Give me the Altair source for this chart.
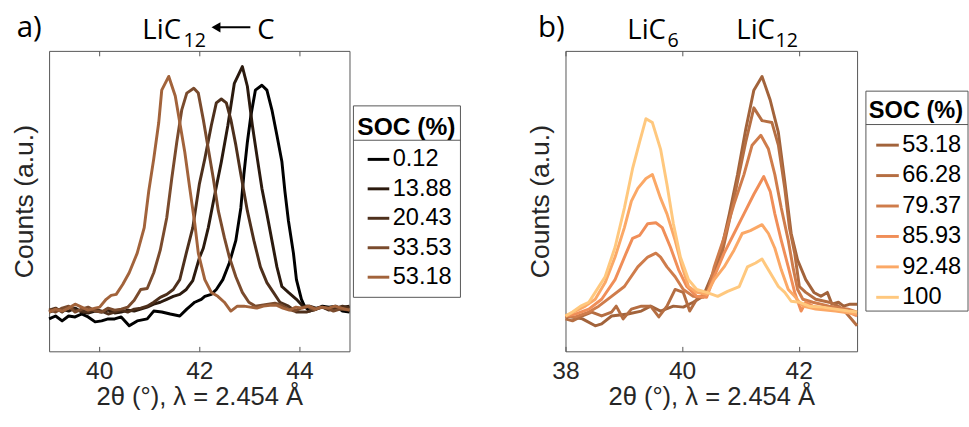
import altair as alt
import pandas as pd

# ---------------- Panel a data ----------------
a_names = ["0.12", "13.88", "20.43", "33.53", "53.18"]
a_colors = ["#000000", "#2b1a0e", "#4e301c", "#7a4b2d", "#a2633b"]

a_x_0p12 = [39.00, 39.13, 39.26, 39.39, 39.52, 39.65, 39.78, 39.92, 40.05, 40.18,
            40.31, 40.44, 40.60, 40.76, 40.96, 41.09, 41.25, 41.42, 41.61, 41.75,
            41.91, 42.04, 42.11, 42.24, 42.34, 42.47, 42.60, 42.73, 42.83, 42.89,
            42.96, 43.03, 43.12, 43.25, 43.35, 43.45, 43.55, 43.65, 43.71, 43.78,
            43.88, 43.94, 44.04, 44.10, 44.20, 44.33, 44.46, 44.59, 44.73, 44.86, 45.00]
a_y_0p12 = [33, 36, 31, 36, 35, 38, 35, 30, 31, 33,
            33, 35, 26, 31, 33, 41, 40, 38, 36, 43,
            50, 53, 56, 58, 63, 73, 90, 113, 146, 180,
            213, 240, 266, 271, 266, 246, 220, 193, 163, 133,
            100, 73, 53, 46, 41, 43, 46, 45, 46, 41, 40]

a_x_13p88 = [39.00, 39.13, 39.26, 39.39, 39.52, 39.65, 39.78, 39.92, 40.05, 40.18,
             40.31, 40.44, 40.57, 40.70, 40.83, 40.96, 41.09, 41.22, 41.35, 41.48,
             41.61, 41.74, 41.87, 42.00, 42.08, 42.18, 42.31, 42.44, 42.57, 42.70,
             42.86, 42.96, 43.06, 43.16, 43.25, 43.35, 43.45, 43.55, 43.65, 43.78,
             43.94, 44.07, 44.20, 44.33, 44.46, 44.59, 44.73, 44.86, 45.00]
a_y_13p88 = [40, 42, 43, 41, 44, 40, 39, 41, 40, 42,
             39, 40, 42, 41, 43, 45, 48, 50, 53, 56,
             58, 63, 72, 95, 105, 126, 160, 193, 230, 273,
             290, 270, 230, 196, 166, 140, 113, 86, 66, 60,
             53, 46, 46, 44, 45, 43, 44, 45, 46]

a_x_20p43 = [39.00, 39.13, 39.26, 39.39, 39.52, 39.65, 39.78, 39.92, 40.05, 40.18,
             40.31, 40.44, 40.57, 40.70, 40.83, 40.96, 41.09, 41.22, 41.35, 41.48,
             41.61, 41.74, 41.87, 42.00, 42.11, 42.24, 42.34, 42.44, 42.54, 42.63,
             42.73, 42.83, 42.96, 43.09, 43.22, 43.35, 43.48, 43.61, 43.78, 43.94,
             44.14, 44.33, 44.46, 44.59, 44.73, 44.86, 45.00]
a_y_20p43 = [42, 44, 40, 45, 42, 41, 40, 43, 41, 38,
             40, 42, 40, 43, 44, 46, 50, 55, 58, 63,
             73, 100, 126, 170, 196, 230, 253, 257, 253, 236,
             210, 180, 143, 113, 86, 70, 60, 50, 46, 40,
             40, 43, 45, 42, 44, 46, 44]

a_x_33p53 = [39.00, 39.13, 39.26, 39.39, 39.52, 39.65, 39.78, 39.92, 40.05, 40.18,
             40.31, 40.44, 40.57, 40.70, 40.83, 40.96, 41.09, 41.22, 41.35, 41.45,
             41.55, 41.65, 41.75, 41.89, 41.98, 42.08, 42.18, 42.28, 42.38, 42.50,
             42.60, 42.73, 42.86, 42.99, 43.12, 43.25, 43.38, 43.51, 43.64, 43.77,
             43.90, 44.03, 44.16, 44.29, 44.42, 44.55, 44.68, 44.81, 45.00]
a_y_33p53 = [43, 40, 44, 46, 40, 43, 45, 41, 40, 44,
             42, 43, 45, 52, 63, 64, 80, 103, 136, 176,
             213, 246, 263, 268, 263, 236, 206, 176, 143, 116,
             96, 76, 60, 50, 46, 47, 48, 49, 47, 43,
             41, 44, 46, 42, 45, 44, 41, 43, 42]

a_x_53p18 = [39.00, 39.13, 39.26, 39.39, 39.52, 39.65, 39.78, 39.92, 40.01, 40.14,
             40.24, 40.34, 40.47, 40.60, 40.76, 40.90, 40.99, 41.09, 41.19, 41.25,
             41.39, 41.52, 41.61, 41.71, 41.81, 41.91, 41.98, 42.11, 42.24, 42.37,
             42.50, 42.63, 42.76, 42.89, 43.02, 43.15, 43.28, 43.41, 43.54, 43.67,
             43.80, 43.93, 44.06, 44.19, 44.32, 44.45, 44.58, 44.71, 44.84, 45.00]
a_y_53p18 = [40, 43, 41, 44, 48, 45, 42, 44, 45, 53,
             57, 58, 68, 80, 100, 126, 163, 196, 233, 266,
             280, 260, 233, 203, 166, 130, 100, 73, 60, 56,
             50, 41, 46, 46, 45, 44, 46, 47, 47, 44,
             42, 45, 44, 46, 43, 45, 44, 46, 44, 42]

# ---------------- Panel b data ----------------
b_names = ["53.18", "66.28", "79.37", "85.93", "92.48", "100"]
b_colors = ["#a2633b", "#b56e42", "#cf7c4b", "#f08e58", "#fba866", "#ffc87e"]

b_x_53p18 = [38.00, 38.29, 38.51, 38.62, 38.79, 39.07, 39.30, 39.46, 39.63, 39.85,
             40.02, 40.19, 40.36, 40.53, 40.67, 40.81, 40.95, 41.09, 41.23, 41.37,
             41.51, 41.65, 41.76, 41.87, 41.98, 42.12, 42.26, 42.38, 42.49, 42.57,
             42.68, 42.77, 42.88, 43.00]
b_y_53p18 = [36, 33, 26, 28, 36, 38, 41, 46, 41, 46,
             45, 50, 56, 80, 103, 140, 180, 226, 266, 280,
             256, 223, 173, 120, 93, 73, 60, 56, 60, 48,
             50, 46, 48, 48]

b_x_66p28 = [38.00, 38.12, 38.29, 38.45, 38.62, 38.79, 38.87, 38.99, 39.13, 39.30,
             39.46, 39.60, 39.74, 39.88, 40.02, 40.13, 40.25, 40.42, 40.53, 40.67,
             40.81, 40.95, 41.09, 41.23, 41.37, 41.54, 41.65, 41.76, 41.84, 41.93,
             42.01, 42.12, 42.29, 42.52, 42.68, 42.80, 43.00]
b_y_66p28 = [33, 31, 36, 40, 36, 40, 46, 33, 43, 46,
             46, 35, 46, 63, 60, 41, 53, 60, 76, 96,
             133, 173, 213, 248, 235, 233, 210, 166, 126, 100,
             66, 60, 53, 50, 46, 40, 26]

b_x_79p37 = [38.00, 38.17, 38.40, 38.57, 38.79, 39.01, 39.24, 39.41, 39.55, 39.63,
             39.74, 39.88, 40.02, 40.19, 40.36, 40.45, 40.55, 40.72, 40.89, 41.06,
             41.20, 41.35, 41.48, 41.59, 41.70, 41.82, 41.90, 41.98, 42.07, 42.24,
             42.52, 42.85, 43.00]
b_y_79p37 = [36, 35, 40, 46, 56, 66, 86, 96, 100, 96,
             86, 76, 63, 56, 55, 62, 86, 116, 150, 180,
             210, 220, 206, 180, 146, 113, 86, 63, 53, 50,
             46, 43, 40]

b_x_85p93 = [38.00, 38.17, 38.40, 38.62, 38.85, 39.04, 39.15, 39.27, 39.41, 39.55,
             39.66, 39.80, 39.94, 40.08, 40.25, 40.42, 40.55, 40.72, 40.89, 41.06,
             41.23, 41.40, 41.51, 41.59, 41.70, 41.82, 41.93, 42.04, 42.12, 42.24,
             42.52, 42.85, 43.00]
b_y_85p93 = [36, 38, 43, 53, 73, 100, 115, 118, 130, 131,
             126, 106, 83, 66, 56, 55, 76, 100, 120, 140,
             160, 178, 163, 140, 113, 86, 60, 41, 50, 46,
             43, 40, 36]

b_x_92p48 = [38.00, 38.17, 38.34, 38.51, 38.68, 38.85, 39.01, 39.13, 39.24, 39.38,
             39.49, 39.63, 39.74, 39.88, 40.00, 40.11, 40.25, 40.42, 40.55, 40.72,
             40.89, 41.03, 41.17, 41.37, 41.48, 41.59, 41.70, 41.82, 41.93, 42.07,
             42.29, 42.63, 43.00]
b_y_92p48 = [36, 41, 46, 53, 70, 96, 126, 153, 166, 176,
             180, 156, 140, 113, 86, 66, 60, 58, 73, 86,
             103, 120, 123, 129, 120, 105, 83, 63, 56, 46,
             43, 41, 38]

b_x_100 = [38.00, 38.12, 38.26, 38.40, 38.51, 38.68, 38.85, 39.01, 39.15, 39.27,
           39.38, 39.49, 39.63, 39.74, 39.85, 39.97, 40.11, 40.25, 40.42, 40.61,
           40.78, 40.98, 41.12, 41.26, 41.37, 41.51, 41.65, 41.76, 41.87, 42.01,
           42.18, 42.40, 42.63, 42.85, 43.00]
b_y_100 = [36, 40, 46, 50, 60, 76, 106, 146, 186, 213,
           237, 233, 206, 170, 130, 96, 73, 63, 60, 56,
           61, 66, 86, 90, 94, 80, 66, 60, 51, 50,
           46, 45, 43, 41, 40]

a_ticks = [40, 42, 44]
b_ticks = [38, 40, 42]


def series_frame(names, xs, ys):
    rows = []
    for n, xv, yv in zip(names, xs, ys):
        for a, b in zip(xv, yv):
            rows.append({"x": a, "y": b, "soc": n})
    return pd.DataFrame(rows)


df_a = series_frame(a_names,
                    [a_x_0p12, a_x_13p88, a_x_20p43, a_x_33p53, a_x_53p18],
                    [a_y_0p12, a_y_13p88, a_y_20p43, a_y_33p53, a_y_53p18])
df_b = series_frame(b_names,
                    [b_x_53p18, b_x_66p28, b_x_79p37, b_x_85p93, b_x_92p48, b_x_100],
                    [b_y_53p18, b_y_66p28, b_y_79p37, b_y_85p93, b_y_92p48, b_y_100])

FONT = "Liberation Sans"
ANN = "Open Sans"
FRAME = "#555555"
TXT = "#262626"
ONE = alt.Data(values=[{"k": 0}])


def y_axis():
    return alt.Axis(title="Counts (a.u.)", labels=False, ticks=False, domain=False, grid=False,
                    titleFont=FONT, titleFontSize=27, titleFontWeight="normal",
                    titleColor=TXT, titlePadding=11)


def x_bottom(vals):
    return alt.Axis(values=vals, format="d", title="2θ (°), λ = 2.454 Å", grid=False,
                    domain=False, ticks=True, tickSize=5, tickWidth=1, tickColor=FRAME,
                    offset=-5, labelFont=FONT, labelFontSize=25, labelColor=TXT,
                    labelPadding=8, labelFlush=False, titleFont=FONT, titleFontSize=26,
                    titleFontWeight="normal", titleColor=TXT, titlePadding=0)


def x_top(vals):
    return alt.Axis(values=vals, orient="top", labels=False, title=None, grid=False,
                    domain=False, ticks=True, tickSize=5, tickWidth=1, tickColor=FRAME,
                    offset=-5)


def legend(x, y, tsize, sym, off, rowpad, tpad):
    return alt.Legend(title="SOC (%)", orient="none", legendX=x, legendY=y,
                      direction="vertical", titleFont=FONT, titleFontSize=tsize,
                      titleFontWeight="bold", titleColor="black", titlePadding=tpad,
                      titleAnchor="start", labelFont=FONT, labelFontSize=24,
                      labelColor="black", labelOffset=2, symbolType="stroke",
                      symbolStrokeWidth=3, symbolSize=sym, symbolOffset=off,
                      rowPadding=rowpad, padding=0)


def text(t, x, y, size):
    return alt.Chart(ONE).mark_text(text=t, font=ANN, fontSize=size, align="left",
                                    baseline="alphabetic", color="black").encode(
        x=alt.value(x), y=alt.value(y))


def box(x1, x2, y1, y2, ysep):
    r = alt.Chart(ONE).mark_rect(fillOpacity=0, stroke=FRAME, strokeWidth=1).encode(
        x=alt.value(x1), x2=alt.value(x2), y=alt.value(y1), y2=alt.value(y2))
    s = alt.Chart(ONE).mark_rule(stroke=FRAME, strokeWidth=1).encode(
        x=alt.value(x1), x2=alt.value(x2), y=alt.value(ysep))
    return [r, s]


def panel(df, names, colors, domain, ticks, width, leg, extras):
    xs = alt.Scale(domain=domain, nice=False, zero=False)
    ys = alt.Scale(domain=[0, 306], nice=False, zero=False)
    lines = alt.Chart(df).mark_line(strokeWidth=3, strokeJoin="round").encode(
        x=alt.X("x:Q", scale=xs, axis=x_bottom(ticks)),
        y=alt.Y("y:Q", scale=ys, axis=y_axis()),
        color=alt.Color("soc:N", scale=alt.Scale(domain=names, range=colors),
                        sort=names, legend=leg),
    )
    top = alt.Chart(df).mark_line(opacity=0).encode(
        x=alt.X("x:Q", scale=xs, axis=x_top(ticks)),
        y=alt.Y("y:Q", scale=ys, axis=y_axis()),
        detail="soc:N",
    )
    return alt.layer(lines, top, *extras).resolve_axis(x="independent").properties(
        width=width, height=306)


# arrow for panel a title
arrow_line = alt.Chart(ONE).mark_rule(stroke="black", strokeWidth=2).encode(
    x=alt.value(172), x2=alt.value(205), y=alt.value(-24))
arrow_head = alt.Chart(ONE).mark_point(shape="triangle-left", filled=True, size=110,
                                       color="black", opacity=1).encode(
    x=alt.value(170), y=alt.value(-24))

extras_a = [text("a)", -33, -14, 30), text("LiC", 95, -12, 28), text("12", 137, -4, 20),
            arrow_line, arrow_head, text("C", 212, -12, 28)] + box(310, 419, 56, 251, 91)
extras_b = [text("b)", -28, -14, 30), text("LiC", 63, -12, 28), text("6", 104, -4, 20),
            text("LiC", 174, -12, 28), text("12", 214, -4, 20)] + box(306, 410, 41, 265, 75)

pa = panel(df_a, a_names, a_colors, [39, 45], a_ticks, 306,
           legend(314, 66, 25, 484, 9, 5, 7), extras_a)
pb = panel(df_b, b_names, b_colors, [38, 43], b_ticks, 297,
           legend(309, 49, 24, 529, 6, 6, 10), extras_b)

chart = alt.hconcat(pa, pb, spacing=66).resolve_scale(
    x="independent", color="independent").properties(
    padding={"left": 10, "top": 9, "right": 0, "bottom": 0},
    background="white").configure_view(stroke=FRAME, strokeWidth=1)

chart.save("out.html", embed_options={"renderer": "svg", "actions": False})
